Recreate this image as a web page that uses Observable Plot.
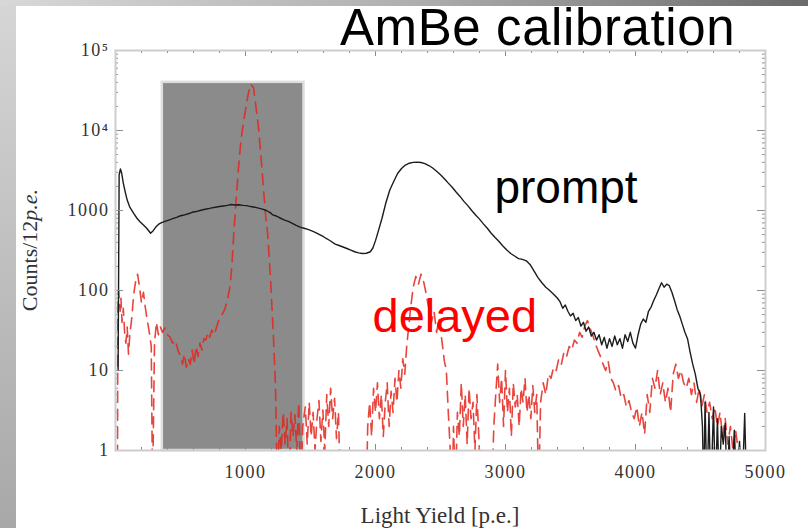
<!DOCTYPE html>
<html><head><meta charset="utf-8">
<script src="https://cdn.jsdelivr.net/npm/d3@7"></script>
<script src="https://cdn.jsdelivr.net/npm/@observablehq/plot@0.6"></script>
<style>
body{margin:0;background:#fff;}
#wrap{position:relative;width:808px;height:528px;overflow:hidden;background:#fff;}
#chart{position:absolute;left:0;top:0;}
.stripL{position:absolute;left:0;top:0;width:16px;height:528px;background:linear-gradient(to bottom,#d6d6d6,#a8a8a8);}
.stripT{position:absolute;left:0;top:0;width:808px;height:6px;background:linear-gradient(to right,#d8d8d8,#b0b0b0 50%,#6a6a6a);}
#title{position:absolute;left:340px;top:2px;font-family:"Liberation Sans",Arial,sans-serif;font-size:51px;line-height:51px;letter-spacing:0.6px;color:#000;white-space:nowrap;}
#xlabel{position:absolute;left:290px;top:504px;width:300px;text-align:center;font-family:"Liberation Serif","Times New Roman",serif;font-size:23px;line-height:23px;color:#333;white-space:nowrap;}
#ylabel{position:absolute;left:-70px;top:238px;width:200px;height:24px;line-height:24px;text-align:center;transform:rotate(-90deg);font-family:"Liberation Serif","Times New Roman",serif;font-size:22px;color:#333;white-space:nowrap;}
g[aria-label$="tick label"] text{letter-spacing:1.5px;}
</style></head><body>
<div id="wrap">
  <div id="chart"></div>
  <div class="stripL"></div><div class="stripT"></div>
  <div id="title">AmBe calibration</div>
  <div id="xlabel">Light Yield [p.e.]</div>
  <div id="ylabel">Counts/12<i>p.e.</i></div>
</div>
<script>
// ---- data ----
const promptX = [20,28,38,48,60,75,90,110,140,165,190,215,240,270,290,310,330,350,380,410,440,470,500,530,560,590,620,650,680,710,740,770,800,830,860,890,920,950,980,1010,1040,1070,1100,1130,1160,1190,1210,1230,1250,1270,1300,1330,1360,1390,1420,1450,1480,1510,1540,1570,1600,1630,1660,1690,1720,1750,1780,1810,1840,1870,1900,1930,1960,1980,2000,2020,2050,2080,2110,2140,2170,2200,2230,2260,2290,2320,2350,2380,2410,2440,2470,2500,2530,2560,2590,2620,2650,2680,2710,2740,2770,2800,2830,2860,2890,2920,2950,2980,3010,3040,3070,3100,3130,3160,3190,3220,3250,3280,3310,3340,3370,3400,3420,3440,3460,3480,3500,3520,3540,3560,3580,3600,3620,3640,3660,3680,3700,3720,3740,3760,3780,3800,3820,3840,3860,3880,3900,3920,3940,3960,3980,4000,4020,4040,4060,4080,4100,4120,4140,4160,4180,4200,4220,4240,4260,4280,4300,4320,4340,4360,4380,4400,4420,4440,4460,4480,4500,4515,4525,4535,4550,4565,4580,4600,4615,4630,4645,4660,4675,4690,4705,4720,4740,4760,4780,4800,4820,4840,4855];
const promptY = [10,2800,3300,2900,2200,1700,1350,1100,920,800,720,660,600,520,560,620,670,700,730,760,790,820,860,880,910,950,970,1000,1030,1050,1080,1100,1120,1140,1160,1190,1170,1180,1160,1150,1120,1100,1070,1040,1000,940,880,860,830,800,760,730,690,650,620,600,580,555,530,500,470,440,410,380,365,350,335,320,305,295,290,292,305,340,420,540,800,1250,1800,2300,2900,3350,3700,3900,4000,4020,3980,3850,3650,3400,3100,2800,2500,2200,1950,1700,1500,1300,1150,1000,880,780,680,600,520,460,410,360,320,290,270,250,245,235,210,175,145,125,110,100,90,80,72,60,66,55,48,52,42,46,36,40,31,35,27,30,24,28,21,26,19,25,20,27,21,25,19,28,23,30,22,19,28,38,44,40,55,62,75,88,105,125,110,120,115,95,75,58,48,38,30,25,17,12,9,6,5,2,0,4,0,3,0,3.5,0,2.5,0,2,1.2,2.2,0,1.5,0,1.8,0,1.3,0,2.9,0];

const delayedX = [15,18,24,30,36,42,50,60,70,80,90,100,110,125,140,155,170,185,200,215,230,245,260,275,285,300,315,330,345,362,380,400,420,440,460,480,500,515,530,545,560,575,590,605,620,635,650,665,680,695,710,725,740,760,780,800,820,840,860,880,895,910,930,946,965,985,1000,1020,1040,1062,1080,1100,1120,1138,1155,1170,1192,1215,1230,1246,1260,1275,1290,1305,1320,1335,1350,1365,1380,1395,1410,1425,1440,1460,1475,1490,1505,1520,1535,1550,1565,1580,1595,1610,1625,1640,1655,1670,1685,1700,1715,1730,1930,1940,1955,1970,1985,2000,2015,2030,2045,2060,2075,2090,2105,2120,2135,2150,2165,2180,2195,2210,2225,2240,2255,2270,2290,2310,2330,2350,2370,2390,2410,2430,2450,2470,2490,2510,2530,2545,2560,2575,2590,2600,2615,2630,2645,2660,2675,2690,2705,2720,2735,2750,2765,2780,2795,2810,2895,2910,2925,2940,2955,2970,2985,3000,3015,3030,3045,3060,3075,3090,3105,3120,3135,3150,3165,3180,3195,3210,3225,3240,3255,3270,3290,3310,3330,3350,3370,3390,3410,3430,3450,3470,3490,3510,3530,3550,3570,3590,3610,3630,3650,3670,3690,3710,3730,3750,3770,3790,3810,3830,3850,3870,3890,3910,3930,3950,3970,3990,4010,4030,4050,4070,4090,4110,4130,4150,4170,4190,4210,4230,4250,4270,4290,4310,4330,4350,4370,4390,4410,4430,4450,4470,4490,4510,4530,4550,4570,4590,4610,4630,4650,4670,4690,4710,4730,4750,4770,4790,4810];
const delayedY = [0,60,100,70,55,80,40,60,30,22,35,16,28,45,90,130,160,110,70,95,60,42,30,20,0,22,40,28,35,30,34,28,26,22,24,18,15,12,16,11,14,12,18,12,20,15,22,18,25,24,30,26,32,28,36,45,50,58,75,110,200,520,1500,3400,7500,13000,18000,28000,38000,34000,20000,11000,4500,1900,850,520,145,26,7,0,2,1,3,1.2,2.5,0,3,1.5,2.8,1,4,0,2,3.5,1.2,4,1.5,3,1,2.5,4.2,1.3,3.2,1,5,2,6,2.5,4.5,1.4,3,0,0,2,4,1.5,6,3,7,2.5,5,1.5,4,7,2,5.5,3,8,4,10,6,14,9,20,35,60,110,150,120,160,130,90,60,40,55,30,45,24,13,10,3,1,0,2,0,3,1.5,7,2,5,1.2,6,2.5,4,1,5,1.5,0,0,2,5,12,4,8,2,10,3,6,1.5,7,3.5,5,2,6,4,8,3,5,2.5,6.5,3,5,0,4,7,5,9,8,11,10,14,12,17,15,20,18,24,22,30,26,36,42,34,28,22,18,15,12,10,13,8,7,5.5,6.5,4.5,5,3.5,4.2,3,2.5,3.5,2,3,1.6,5,3,8,6,10,5,7,4,6,3,9,12,8,10,7,6,8,5,7,4,6,3.5,5,3,4,2.5,3.5,2,3,1.5,2.5,1.2,2,1,1.8,1,0];

// shaded neutron-capture selection window (light yield range, counts range)
const windowLY = [360, 1450];
const windowCounts = [1, 40000];

// tick values
const xMajor = [1000, 2000, 3000, 4000, 5000];
const xMinor = d3.range(200, 5000, 200).filter(v => v % 1000 !== 0);
const yMajor = [1, 10, 100, 1000, 10000, 100000];
const yTickText = ["1", "10", "100", "1000", "10\u2074", "10\u2075"];
const yMinor = [1, 10, 100, 1000, 10000].flatMap(p => [2,3,4,5,6,7,8,9].map(k => k * p));

// annotation labels
const promptLabel = [{text: "prompt", x: 2915, y: 1230}];
const delayedLabel = [{text: "delayed", x: 1977, y: 30}];

// ---- build tables ----
const FLOOR = 0.3; // counts of zero fall below the axis and are clipped
const prompt = promptX.map((x, i) => ({x, y: Math.max(promptY[i], FLOOR)}));
const delayed = delayedX.map((x, i) => ({x, y: Math.max(delayedY[i], FLOOR)}));
const win = [{x1: windowLY[0], x2: windowLY[1], y1: windowCounts[0], y2: windowCounts[1]}];

const W = 808, H = 528, ML = 115, MR = 43, MT = 50, MB = 78;
const fw = W - ML - MR, fh = H - MT - MB;
const tickCol = "#8a8a8a";

const chart = Plot.plot({
  width: W, height: H,
  marginLeft: ML, marginRight: MR, marginTop: MT, marginBottom: MB,
  style: {background: "transparent", fontFamily: "'Liberation Serif','Times New Roman',serif", color: "#333"},
  x: {domain: [0, 5000]},
  y: {type: "log", domain: [1, 100000]},
  marks: [
    Plot.rect(win, {x1: "x1", x2: "x2", y1: "y1", y2: "y2", fill: "#8b8b8b", stroke: "#dedede", strokeWidth: 2.5}),
    Plot.line(delayed, {x: "x", y: "y", stroke: "#e3241b", strokeOpacity: 0.85, strokeWidth: 1.6, strokeDasharray: "11,7", clip: true}),
    Plot.line(prompt, {x: "x", y: "y", stroke: "#1c1c1c", strokeWidth: 1.4, clip: true}),
    // inward ticks on all four sides
    Plot.tickX(xMajor, {x: d => d, insetTop: fh - 6, stroke: tickCol}),
    Plot.tickX(xMajor, {x: d => d, insetBottom: fh - 6, stroke: tickCol}),
    Plot.tickX(xMinor, {x: d => d, insetTop: fh - 3, stroke: tickCol}),
    Plot.tickX(xMinor, {x: d => d, insetBottom: fh - 3, stroke: tickCol}),
    Plot.tickY(yMajor, {y: d => d, insetRight: fw - 8, stroke: tickCol}),
    Plot.tickY(yMajor, {y: d => d, insetLeft: fw - 8, stroke: tickCol}),
    Plot.tickY(yMinor, {y: d => d, insetRight: fw - 3, stroke: tickCol}),
    Plot.tickY(yMinor, {y: d => d, insetLeft: fw - 3, stroke: tickCol}),
    Plot.frame({stroke: "#cdcdcd", strokeWidth: 2}),
    Plot.axisX(xMajor, {tickSize: 0, tickPadding: 15, fontSize: 18, tickFormat: d => String(d), label: null, fill: "#333"}),
    Plot.axisY(yMajor, {tickSize: 0, tickPadding: 6, fontSize: 18, tickFormat: d => yTickText[yMajor.indexOf(d)], label: null, fill: "#333"}),
    Plot.text(promptLabel, {x: "x", y: "y", text: "text", fill: "#000", fontSize: 46, textAnchor: "start", lineAnchor: "bottom", fontFamily: "'Liberation Sans',Arial,sans-serif"}),
    Plot.text(delayedLabel, {x: "x", y: "y", text: "text", fill: "#ff0000", fontSize: 47, textAnchor: "start", lineAnchor: "bottom", fontFamily: "'Liberation Sans',Arial,sans-serif"})
  ]
});
document.getElementById("chart").appendChild(chart);
</script>
</body></html>
